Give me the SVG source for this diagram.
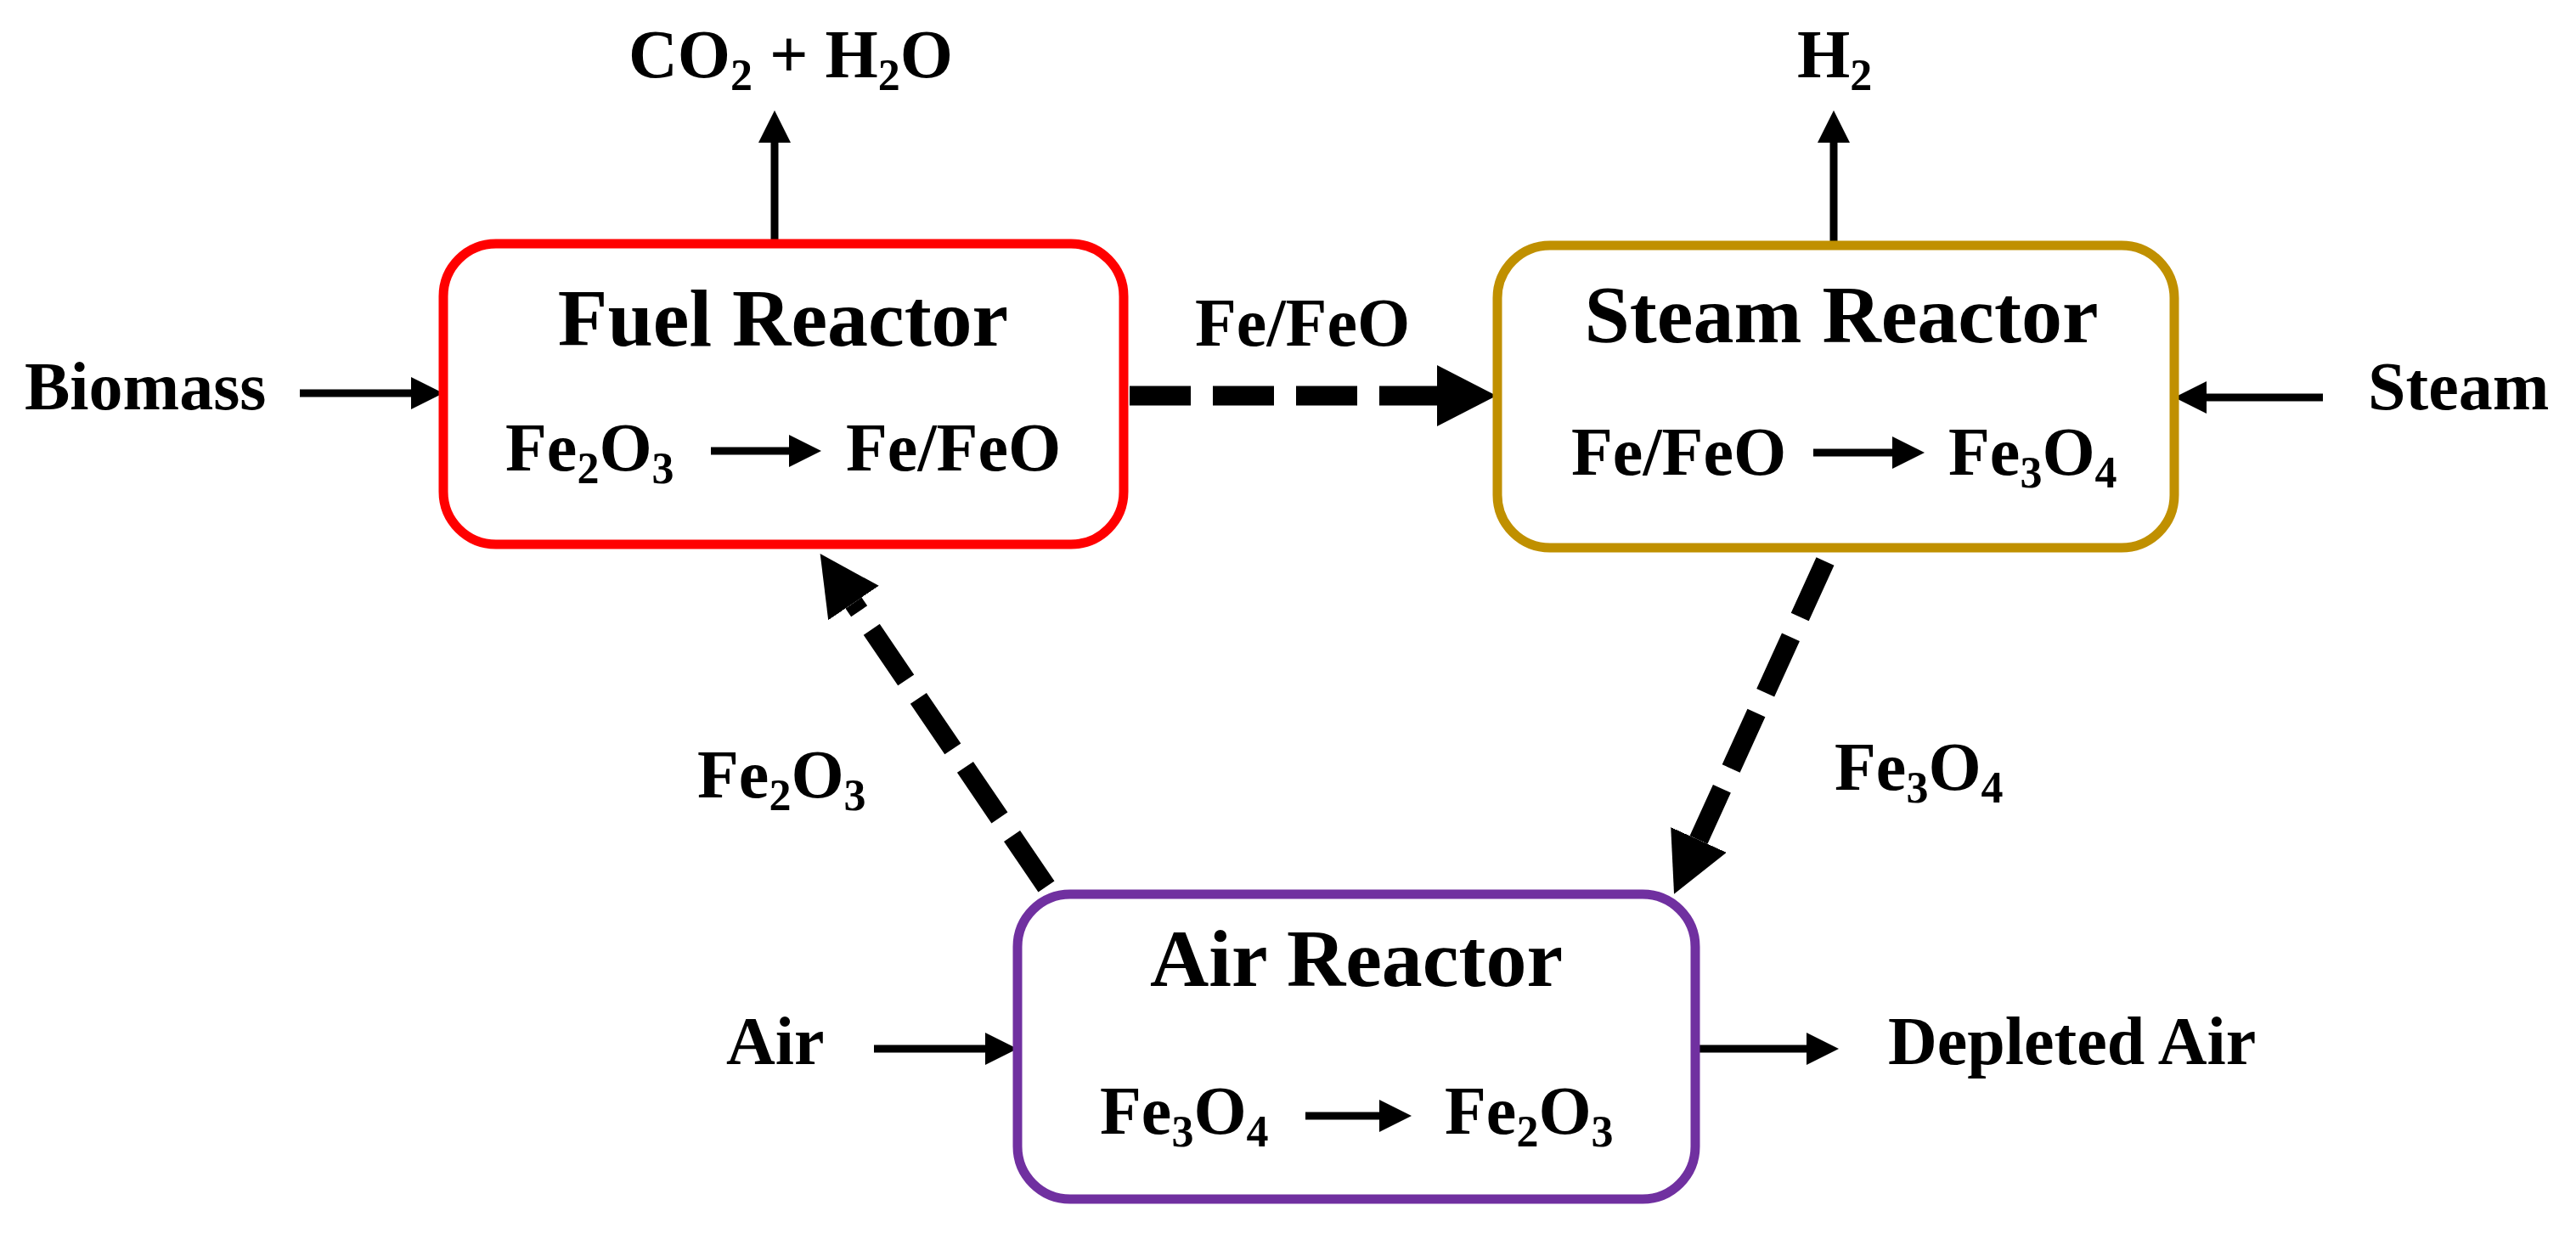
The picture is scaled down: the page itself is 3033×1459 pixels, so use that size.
<svg xmlns="http://www.w3.org/2000/svg" width="3033" height="1459" viewBox="0 0 3033 1459">
<style>
text{font-family:"Liberation Serif","Times New Roman",serif;font-weight:bold;fill:#000}
.t{font-size:96px}
.l{font-size:80px}
.s{font-size:52px}
.box{fill:#fff;stroke-width:11}
.thin{stroke:#000;stroke-width:9;fill:none;marker-end:url(#ah)}
.dash{stroke:#000;stroke-width:23;fill:none;stroke-dasharray:72 26;marker-end:url(#dh)}
</style>
<defs>
<marker id="ah" markerUnits="userSpaceOnUse" markerWidth="40" markerHeight="40" refX="0" refY="19" orient="auto" viewBox="0 0 40 40"><path d="M0,0 L38,19 L0,38 z" fill="#000"/></marker>
<marker id="dh" markerUnits="userSpaceOnUse" markerWidth="72" markerHeight="74" refX="0" refY="36" orient="auto" viewBox="0 0 72 74"><path d="M0,0 L70,36 L0,72 z" fill="#000"/></marker>
</defs>
<rect width="3033" height="1459" fill="#fff"/>
<g id="connectors">
<line class="thin" x1="353" y1="463" x2="484" y2="463"/>
<line class="thin" x1="2735" y1="468" x2="2598" y2="468"/>
<line class="thin" x1="1029" y1="1235" x2="1160" y2="1235"/>
<line class="thin" x1="1996" y1="1235" x2="2127" y2="1235"/>
<line class="thin" x1="912" y1="287" x2="912" y2="168"/>
<line class="thin" x1="2159" y1="289" x2="2159" y2="168"/>
<line class="dash" x1="1330" y1="466" x2="1692" y2="466"/>
<line class="dash" x1="1232" y1="1044" x2="1005" y2="710"/>
<line class="dash" x1="2149" y1="661" x2="2000" y2="989"/>
<text class="l" x="1407" y="407">Fe/FeO</text>
<text class="l" x="821" y="939">Fe<tspan class="s" dy="15">2</tspan><tspan dy="-15">O</tspan><tspan class="s" dy="15">3</tspan></text>
<text class="l" x="2160" y="930">Fe<tspan class="s" dy="15">3</tspan><tspan dy="-15">O</tspan><tspan class="s" dy="15">4</tspan></text>
</g>
<g id="inputs">
<text class="l" x="29" y="482">Biomass</text>
<text class="l" x="2788" y="482">Steam</text>
<text class="l" x="855" y="1253">Air</text>
<text class="l" x="2223" y="1253">Depleted Air</text>
<text class="l" x="740" y="91">CO<tspan class="s" dy="15">2</tspan><tspan dy="-15"> + H</tspan><tspan class="s" dy="15">2</tspan><tspan dy="-15">O</tspan></text>
<text class="l" x="2116" y="91">H<tspan class="s" dy="15">2</tspan></text>
</g>
<g id="fuel">
<rect class="box" x="522" y="287" width="801" height="354" rx="62" stroke="#FF0000"/>
<text class="t" x="922" y="407" text-anchor="middle">Fuel Reactor</text>
<text class="l" x="595" y="554">Fe<tspan class="s" dy="15">2</tspan><tspan dy="-15">O</tspan><tspan class="s" dy="15">3</tspan></text>
<line class="thin" stroke-width="10" x1="837" y1="531" x2="929" y2="531"/>
<text class="l" x="996" y="554">Fe/FeO</text>
</g>
<g id="steam">
<rect class="box" x="1763" y="289" width="797" height="356" rx="62" stroke="#C09000"/>
<text class="t" x="2168" y="403" text-anchor="middle">Steam Reactor</text>
<text class="l" x="1850" y="559">Fe/FeO</text>
<line class="thin" stroke-width="10" x1="2135" y1="533" x2="2228" y2="533"/>
<text class="l" x="2294" y="559">Fe<tspan class="s" dy="15">3</tspan><tspan dy="-15">O</tspan><tspan class="s" dy="15">4</tspan></text>
</g>
<g id="air">
<rect class="box" x="1198" y="1053" width="798" height="359" rx="62" stroke="#7030A0"/>
<text class="t" x="1597" y="1161" text-anchor="middle">Air Reactor</text>
<text class="l" x="1295" y="1335">Fe<tspan class="s" dy="15">3</tspan><tspan dy="-15">O</tspan><tspan class="s" dy="15">4</tspan></text>
<line class="thin" stroke-width="10" x1="1537" y1="1314" x2="1624" y2="1314"/>
<text class="l" x="1701" y="1335">Fe<tspan class="s" dy="15">2</tspan><tspan dy="-15">O</tspan><tspan class="s" dy="15">3</tspan></text>
</g>
</svg>
